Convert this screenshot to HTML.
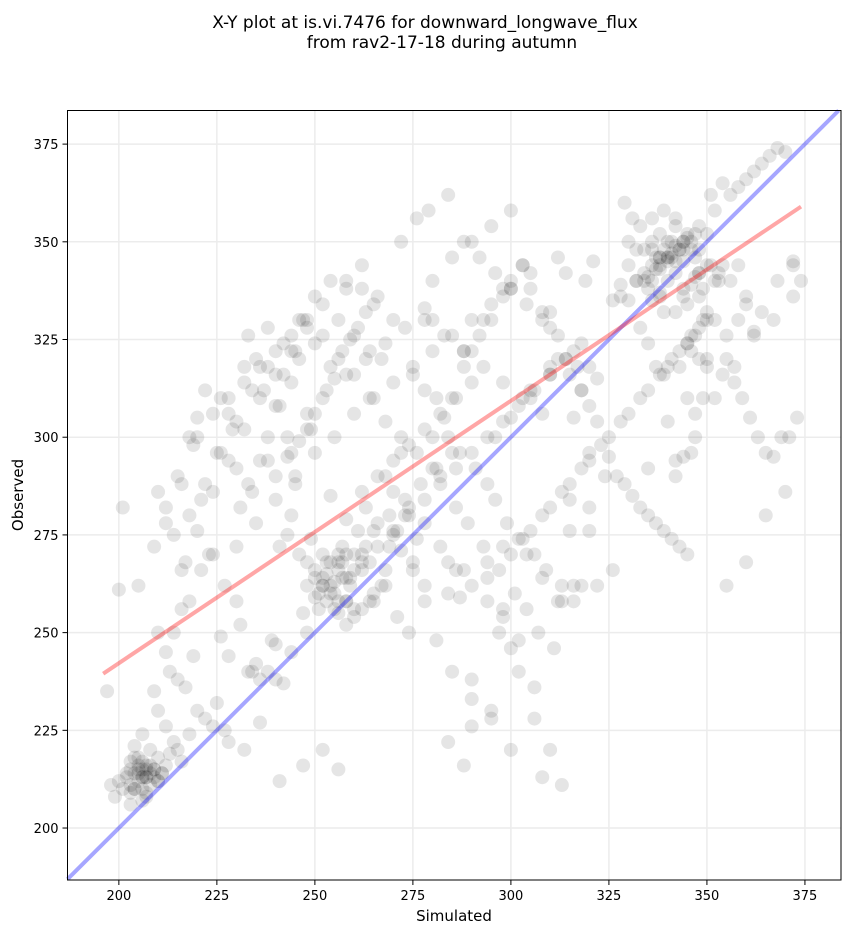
<!DOCTYPE html>
<html><head><meta charset="utf-8"><style>
body{margin:0;background:#fff;font-family:"Liberation Sans","DejaVu Sans",sans-serif}
</style></head><body>
<svg id="chart" width="851" height="934" xmlns="http://www.w3.org/2000/svg" font-family="DejaVu Sans, Liberation Sans, sans-serif">
<rect width="851" height="934" fill="#fff"/>
<text x="425" y="28" text-anchor="middle" font-size="17">X-Y plot at is.vi.7476 for downward_longwave_flux</text>
<text x="442" y="48" text-anchor="middle" font-size="17">from rav2-17-18 during autumn</text>
<g id="grid"></g>
<g id="points"></g>
<g id="lines"></g>
<rect x="67.5" y="110.5" width="773.5" height="769.5" fill="none" stroke="#000" stroke-width="1"/>
<g id="ticks"></g>
<text x="454" y="921" text-anchor="middle" font-size="15">Simulated</text>
<text transform="translate(23,495) rotate(-90)" text-anchor="middle" font-size="15">Observed</text>
</svg>
<script>
const xTicks=[200,225,250,275,300,325,350,375];
const yTicks=[200,225,250,275,300,325,350,375];
const fitStart=[196,239.5];
const fitEnd=[374,359];
const simX=[204,205,206,207,205,206,203,208,204,207,206,205,202,209,203,200,201,210,208,212,214,211,215,199,198,203,207,213,216,218,212,206,204,210,
209,213,215,217,212,220,222,225,219,214,216,210,218,200,197,223,221,227,230,226,233,228,236,231,240,238,242,235,239,
253,255,256,257,254,258,252,256,259,255,257,253,250,248,247,251,260,262,249,246,261,263,258,254,244,245,243,241,
256,252,258,251,263,266,260,264,268,270,272,275,267,269,273,276,265,271,
212,215,218,220,222,225,228,230,214,217,210,216,221,224,219,226,229,232,235,237,240,233,238,242,245,247,244,248,250,
240,243,246,249,252,255,254,257,259,261,263,265,267,262,258,250,246,244,241,238,236,234,231,
280,283,285,288,290,292,295,298,300,303,305,308,310,312,315,318,320,322,282,286,289,293,297,301,304,307,311,314,317,
275,278,281,284,287,291,294,296,299,302,306,309,313,316,319,321,
272,276,279,284,288,292,296,300,304,308,312,316,320,324,270,274,278,282,286,290,294,298,302,306,
285,290,294,298,302,306,310,290,295,300,288,284,280,278,
328,330,332,334,335,336,337,338,339,340,341,342,343,344,345,346,347,348,349,350,336,338,340,342,344,346,348,
335,337,339,341,343,345,347,333,331,329,351,352,354,356,358,360,362,364,366,368,370,372,374,352,355,357,359,361,363,365,367,369,371,373,
325,327,329,331,333,335,337,339,341,343,345,347,349,322,320,318,316,314,312,
330,333,336,339,342,345,348,351,334,338,342,346,350,354,358,362,
326,328,332,335,338,341,344,347,350,353,356,360,364,368,372,
336,340,344,348,337,341,345,349,338,342,346,343,339,347,335,344,
296,300,305,310,315,320,304,308,312,316,300,297,
262,268,275,281,287,258,271,265,278,284,290,295,
224,228,232,236,240,244,248,252,256,227,234,241,247,
205,207,209,208,206,204,210,203,211,207,205,209,
218,222,226,230,234,238,242,246,250,254,258,262,266,270,274,278,216,220,224,228,232,236,240,244,248,252,256,260,264,268,272,
220,224,228,232,236,240,244,248,252,256,260,264,268,272,276,280,284,288,
230,235,240,245,250,255,260,265,270,275,280,285,290,295,300,305,310,315,320,
233,238,243,248,253,258,263,268,273,278,283,288,293,298,303,308,313,318,
250,254,258,262,266,270,274,278,282,286,290,294,298,302,306,310,314,318,322,326,
248,252,256,260,264,252,256,260,254,258,250,262,257,255,253,259,
300,305,310,315,320,325,330,335,340,345,350,355,360,303,308,313,318,323,328,333,338,343,348,353,358,
332,336,340,344,348,352,330,334,338,342,346,350,354,336,340,344,348,338,342,346,
340,345,350,355,360,365,370,342,347,352,357,362,367,372,
280,285,290,295,300,305,310,288,293,298,303,308,313,
206,204,208,202,210,207,205,203,209,206,212,201,
262,266,270,274,278,282,286,290,294,298,265,269,273,277,281,285,289,293];
const obsY=[214,215,213,216,212,217,211,214,218,213,210,216,213,215,209,212,210,218,220,216,222,214,220,208,211,206,208,219,217,224,226,224,221,230,
235,240,238,236,245,230,228,232,244,250,256,250,258,261,235,270,266,262,258,249,240,244,238,252,247,240,237,242,248,
265,263,266,268,260,264,270,258,262,256,272,268,259,262,255,260,266,268,274,270,276,272,279,285,280,288,275,272,
255,262,258,256,282,278,270,268,266,275,271,268,262,272,280,274,260,276,
282,290,300,305,312,296,306,292,275,268,286,288,284,270,298,310,302,318,320,312,308,326,328,316,322,330,296,302,306,
290,295,299,302,310,315,318,322,325,328,332,334,320,338,340,324,320,314,308,300,294,286,282,
300,305,310,318,322,326,330,336,340,344,338,332,328,320,316,312,308,304,290,282,278,272,266,260,256,250,246,
320,318,316,312,310,300,296,292,288,284,278,274,270,266,262,258,
340,345,350,356,358,362,350,346,342,338,334,330,326,322,296,290,286,282,278,272,266,262,258,254,
240,236,240,226,264,256,248,228,220,238,230,220,216,222,
330,333,336,335,340,342,338,344,343,346,348,345,347,349,348,350,351,350,352,354,330,332,335,337,340,342,345,
322,320,324,318,316,320,318,324,326,328,356,360,362,358,365,362,364,366,368,370,372,374,373,345,340,330,320,314,310,305,300,296,295,300,
300,305,295,290,288,285,282,280,278,276,274,272,270,306,310,315,318,312,305,
342,346,350,354,356,358,356,352,348,344,340,336,332,326,320,316,
330,327,335,339,340,341,344,346,348,346,344,342,340,336,332,
340,344,348,350,336,342,346,350,334,338,343,345,339,348,332,341,
292,295,300,305,312,318,284,276,270,264,258,262,
246,250,256,262,266,248,259,252,254,258,262,268,
233,228,226,222,220,227,238,245,250,220,215,225,240,
212,216,214,213,215,211,213,210,212,217,214,215,
262,272,280,288,296,304,312,318,324,330,336,340,338,344,336,330,250,258,266,276,286,294,302,310,316,322,328,334,330,326,322,
290,296,300,306,310,314,318,322,326,330,326,320,316,310,304,300,296,292,
260,266,272,278,284,290,296,300,306,310,314,318,322,326,330,334,338,342,332,
276,282,288,294,300,306,312,316,320,324,328,330,326,322,318,314,310,306,
258,262,264,268,270,266,272,276,280,284,288,292,296,300,304,308,312,316,320,324,
262,266,268,264,270,256,258,262,268,254,262,258,266,270,264,260,
258,264,270,276,282,288,294,300,306,312,318,324,330,262,268,274,280,286,292,298,304,310,316,322,328,
340,344,348,350,346,350,336,340,344,348,352,354,348,352,344,340,346,338,342,346,
290,296,304,310,318,326,334,280,286,294,300,310,318,326,
330,336,340,346,350,354,358,310,316,322,330,338,344,
213,211,215,210,216,214,212,209,218,215,213,207,
278,282,286,290,294,298,302,306,310,314,268,272,276,280,284,288,292,296];
const L=67.5,R=841,T=110.5,B=880;
const xMin=186.9,xMax=384.2,yMin=186.7,yMax=383.6;
const sx=v=>L+(v-xMin)/(xMax-xMin)*(R-L);
const sy=v=>B-(v-yMin)/(yMax-yMin)*(B-T);
const NS="http://www.w3.org/2000/svg";
function mk(t,a,p){const e=document.createElementNS(NS,t);for(const k in a)e.setAttribute(k,a[k]);p.appendChild(e);return e;}
const grid=document.getElementById('grid'),ticks=document.getElementById('ticks');
xTicks.forEach(v=>{const x=sx(v);
 const g=mk('line',{x1:x,x2:x,y1:T,y2:B,stroke:'#ececec','stroke-width':1.5},grid);
 
 
 mk('line',{x1:x,x2:x,y1:B,y2:B+5,stroke:'#000'},ticks);
 const t=mk('text',{x:x,y:B+20,'text-anchor':'middle','font-size':13},ticks);t.textContent=v;
 
 });
yTicks.forEach(v=>{const y=sy(v);
 const g=mk('line',{x1:L,x2:R,y1:y,y2:y,stroke:'#ececec','stroke-width':1.5},grid);
 
 
 mk('line',{x1:L-5,x2:L,y1:y,y2:y,stroke:'#000'},ticks);
 const t=mk('text',{x:L-9,y:y+5,'text-anchor':'end','font-size':13},ticks);t.textContent=v;
 
 });
const pts=document.getElementById('points');
simX.forEach((v,i)=>{if(obsY[i]===undefined)return;
 const c=mk('circle',{cx:sx(v),cy:sy(obsY[i]),r:7,fill:'#000','fill-opacity':0.1},pts);
 
 });
const lines=document.getElementById('lines');
const one=mk('line',{x1:sx(xMin),y1:sy(xMin),x2:sx(yMax),y2:sy(yMax),stroke:'#0000ff','stroke-opacity':0.35,'stroke-width':4},lines);


const fit=mk('line',{x1:sx(fitStart[0]),y1:sy(fitStart[1]),x2:sx(fitEnd[0]),y2:sy(fitEnd[1]),stroke:'#ff0000','stroke-opacity':0.35,'stroke-width':4},lines);


</script>
</body></html>
